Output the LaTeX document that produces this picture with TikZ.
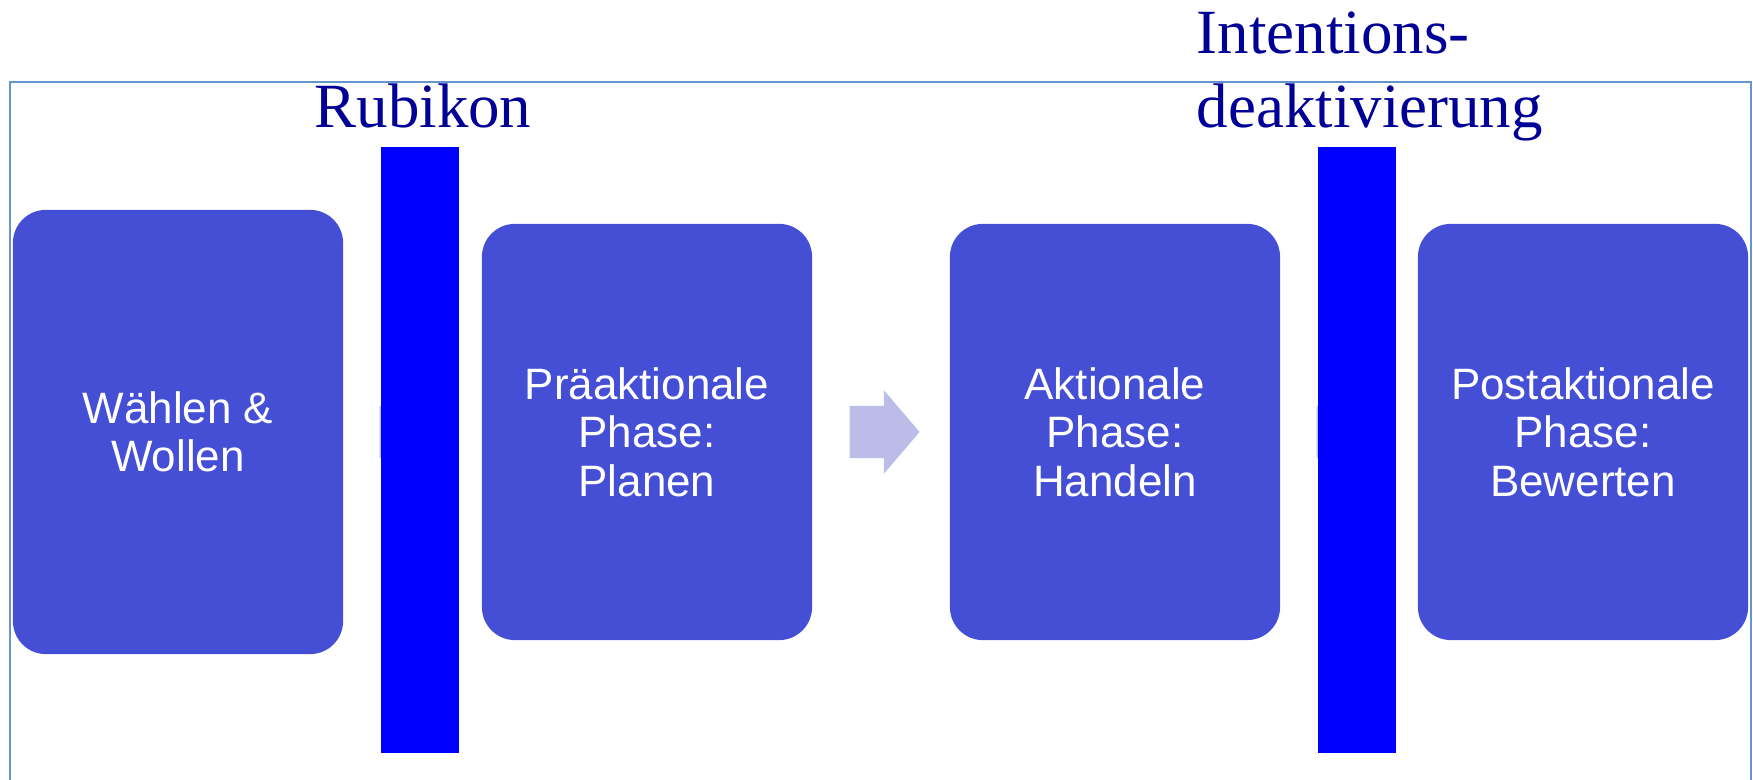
\documentclass[tikz,border=0pt]{standalone}
\usepackage{fontspec}
\setmainfont{Liberation Serif}
\setsansfont{Liberation Sans}
\usetikzlibrary{shapes.arrows}

\definecolor{phaseblue}{RGB}{69,79,213}
\definecolor{barblue}{RGB}{0,0,255}
\definecolor{arrowgray}{RGB}{187,189,232}
\definecolor{labelblue}{RGB}{0,0,150}
\definecolor{framecol}{RGB}{98,150,205}

\begin{document}
\begin{tikzpicture}[x=0.01cm,y=-0.01cm,
  phase/.style={rectangle,rounded corners=0.33cm,fill=phaseblue,text=white,
    minimum width=3.3cm,minimum height=4.16cm,align=center,
    font=\sffamily\fontsize{12.5}{13.8}\selectfont},
  barrier/.style={rectangle,fill=barblue,minimum width=0.78cm,
    minimum height=6.06cm,inner sep=0pt},
  flow/.style={single arrow,fill=arrowgray,inner xsep=0pt,inner ysep=0.255cm,
    single arrow head extend=0.155cm,single arrow tip angle=99,
    minimum height=0.7cm,anchor=west},
  barlabel/.style={text=labelblue,inner sep=0pt,
    font=\fontsize{17.9}{21.3}\selectfont}]
  \useasboundingbox (0,0) rectangle (1753,780);

  % frame
  \draw[framecol,line width=0.7pt] (10,780) -- (10,82) -- (1751,82) -- (1751,780);

  % phases
  \node[phase,minimum height=4.44cm] (Waehlen) at (178,432) {W\"ahlen \&\\Wollen};
  \node[phase] (Planen) at (647,432) {Pr\"aaktionale\\Phase:\\Planen};
  \node[phase] (Handeln) at (1115,432) {Aktionale\\Phase:\\Handeln};
  \node[phase] (Bewerten) at (1583,432) {Postaktionale\\Phase:\\Bewerten};

  % arrows, two of them hidden behind the bars
  \node[flow] (Flow1) at ([xshift=0.35cm]Waehlen.east) {};
  \node[flow] (Flow2) at ([xshift=0.36cm]Planen.east) {};
  \node[flow] (Flow3) at ([xshift=0.35cm]Handeln.east) {};

  % barriers
  \node[barrier] (Rubikon) at (420,450) {};
  \node[barrier] (Deakt) at (1357,450) {};

  \node[barlabel,anchor=base] (RubikonName) at (423,128) {Rubikon};
  \node[barlabel,anchor=base west,align=left] (DeaktName) at (1196,128)
    {Intentions-\\deaktivierung};
\end{tikzpicture}
\end{document}
